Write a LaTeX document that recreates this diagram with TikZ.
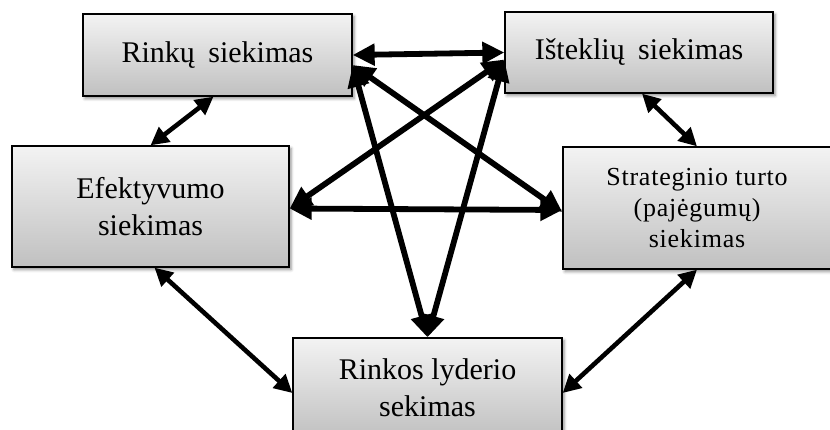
\documentclass[tikz,border=0pt]{standalone}
\usepackage{fontspec}
\setmainfont{Liberation Serif}
\usetikzlibrary{arrows.meta,shadows.blur}

\definecolor{boxtop}{RGB}{243,243,243}
\definecolor{boxbot}{RGB}{192,192,192}

\tikzset{
  goal/.style={draw=black, line width=1.3pt, top color=boxtop, bottom color=boxbot,
    inner sep=0pt, align=center, font=\fontsize{30}{37}\selectfont,
    blur shadow={shadow xshift=2pt, shadow yshift=-2.5pt, shadow blur radius=3pt, shadow opacity=45}},
  star/.style={line width=5.8pt,
    {Triangle[length=22pt,width=21pt]}-{Triangle[length=22pt,width=21pt]}},
  link/.style={line width=4.6pt,
    {Triangle[length=18pt,width=18pt]}-{Triangle[length=18pt,width=18pt]}}
}

\begin{document}
\begin{tikzpicture}[x=1pt,y=-1pt]
  \useasboundingbox (0,0) rectangle (830,430);

  % the five goals
  \node[goal, minimum width=269pt, minimum height=82pt] (A) at (217.5,55)
    {Rinkų\hspace{.45em}siekimas};
  \node[goal, minimum width=268pt, minimum height=81pt] (B) at (639,52.5)
    {Išteklių\hspace{.45em}siekimas};
  \node[goal, minimum width=277pt, minimum height=121pt] (C) at (150.5,206.5)
    {Efektyvumo\\siekimas};
  \node[goal, minimum width=268pt, minimum height=122pt,
        font=\fontsize{26}{31}\selectfont\addfontfeature{LetterSpace=3}] (D) at (697,208)
    {Strateginio turto\\(pajėgumų)\\siekimas};
  \node[goal, minimum width=269pt, minimum height=100pt] (E) at (427.5,388)
    {Rinkos lyderio\\sekimas};

  % star of links between all goals
  \draw[star] (A.east) -- (B.west);
  \draw[star] ([yshift=-10pt]A.east) -- ([yshift=-4pt]D.west);
  \draw[star] ([yshift=-10pt]A.east) -- (E.north);
  \draw[star] ([yshift=-7pt]B.west) -- ([yshift=-2pt]C.east);
  \draw[star] ([yshift=-7pt]B.west) -- (E.north);
  \draw[star] ([yshift=-2pt]C.east) -- ([yshift=-2pt]D.west);

  % outer ring of links between neighbouring goals
  \draw[link] ([xshift=-4pt]A.south) -- (C.north);
  \draw[link] ([xshift=3pt]B.south) -- (D.north);
  \draw[link] ([xshift=4pt]C.south) -- ([yshift=-5pt]E.west);
  \draw[link] (D.south) -- ([yshift=-5pt]E.east);
\end{tikzpicture}
\end{document}
